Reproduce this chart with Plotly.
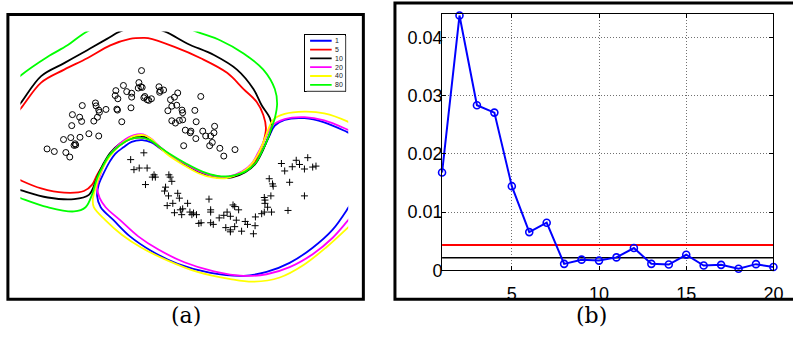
import plotly.graph_objects as go

W, H = 793, 349

# ---------------- Panel (a) data (image-like units, y downward) ----------------
circ_x = [430, 422, 428, 420, 432, 375, 352, 350, 358, 385, 400, 400,
          483, 487, 497, 485, 440, 437, 447, 460, 452, 540, 530, 518, 610,
          290, 292, 250, 300, 302, 322, 296, 285, 355, 357, 398, 370,
          220, 242, 248, 218, 510, 522, 537, 553, 555, 592,
          522, 533, 545, 555, 596, 563, 580, 578, 616, 595, 625, 640, 650, 652,
          270, 300, 243, 215, 193, 228, 225, 230, 143, 165, 200, 212,
          558, 637, 645, 668, 680, 714]
circ_y = [218, 255, 268, 272, 270, 264, 280, 295, 305, 283, 288, 300,
          268, 280, 278, 285, 298, 302, 308, 305, 310, 287, 300, 308, 298,
          318, 327, 326, 340, 347, 338, 362, 374, 337, 340, 333, 376,
          354, 362, 375, 388, 342, 328, 325, 340, 348, 341,
          373, 380, 372, 370, 376, 402, 405, 410, 405, 428, 420, 420, 410, 390,
          413, 420, 424, 425, 431, 444, 449, 448, 460, 468, 471, 485,
          450, 450, 440, 458, 482, 462]

cross_x = [437, 397, 407, 423, 447, 468, 463, 472, 513, 517, 522, 442,
           503, 500, 512, 540, 545, 570, 525, 508, 530, 548, 555, 552, 577, 583, 597, 588,
           604, 611, 640, 648, 635, 640, 640, 666, 680, 690, 708, 713, 725, 718, 700,
           686, 700, 700, 713, 734, 745, 752, 775, 770, 776, 795, 803, 803, 805, 805,
           823, 813, 825, 818, 828, 830, 880, 855, 865, 888, 900, 910, 925, 935, 950,
           960, 925, 875]
cross_y = [472, 493, 524, 519, 519, 540, 547, 547, 540, 547, 560, 570,
           578, 590, 605, 597, 612, 628, 628, 635, 657, 648, 645, 663, 655, 663, 663, 658,
           690, 688, 688, 693, 615, 648, 655, 673, 665, 655, 633, 638, 648, 680, 668,
           703, 710, 716, 700, 714, 684, 693, 697, 722, 670, 660, 655, 610, 618, 628,
           605, 640, 655, 552, 568, 575, 563, 505, 528, 515, 495, 508, 522, 487, 516,
           513, 605, 650]

series_names = ["1", "5", "10", "20", "40", "80"]
series_colors = ["#0000ff", "#ff0000", "#000000", "#ff00ff", "#ffff00", "#00ff00"]

curve_1_x = [1080, 1055, 985, 925, 865, 835, 818, 800, 780, 750, 710, 665, 620, 570, 520,
             485, 460, 432, 400, 375, 350, 333, 315, 300, 295, 306, 345, 395, 460, 540,
             640, 740, 810, 880, 950, 1010, 1058, 1080]
curve_1_y = [420, 408, 378, 365, 370, 388, 420, 460, 497, 525, 543, 548, 537, 512, 482,
             457, 440, 433, 438, 455, 475, 500, 535, 570, 605, 640, 680, 730, 775, 815,
             843, 852, 840, 812, 765, 710, 642, 605]

curve_5_x = [40, 63, 125, 195, 265, 335, 395, 435, 450, 530, 610, 690, 740, 780, 800, 808,
             800, 785, 770, 745, 705, 660, 615, 565, 515, 480, 455, 430, 400, 365, 335,
             310, 295, 280, 255, 195, 125, 65, 40]
curve_5_y = [360, 335, 255, 215, 180, 140, 120, 117, 118, 145, 180, 225, 275, 315, 355, 395,
             440, 478, 508, 530, 545, 545, 533, 508, 478, 452, 432, 425, 428, 448, 478,
             515, 540, 570, 590, 595, 582, 558, 545]

curve_10_x = [40, 63, 125, 195, 265, 325, 365, 430, 500, 570, 650, 720, 770, 795, 820, 825,
              812, 795, 775, 745, 705, 660, 615, 565, 515, 480, 455, 430, 400, 365, 335,
              312, 298, 290, 270, 225, 145, 65, 40]
curve_10_y = [345, 318, 235, 195, 155, 120, 97, 78, 97, 135, 170, 215, 275, 325, 365, 395,
              432, 472, 507, 532, 548, 548, 535, 510, 478, 450, 430, 420, 424, 443, 472,
              510, 540, 562, 602, 615, 610, 588, 580]

curve_20_x = [1080, 1055, 985, 925, 865, 825, 805, 785, 765, 735, 695, 655, 612, 563, 515,
              482, 458, 435, 405, 372, 342, 318, 303, 295, 303, 321, 365, 420, 480, 560,
              650, 740, 810, 880, 950, 1010, 1058, 1080]
curve_20_y = [412, 400, 372, 362, 368, 390, 430, 470, 505, 530, 545, 545, 532, 506, 477,
              450, 428, 415, 418, 437, 467, 505, 545, 580, 612, 640, 680, 730, 770, 810,
              838, 852, 847, 825, 785, 735, 680, 655]

curve_40_x = [1080, 1055, 985, 925, 865, 830, 815, 800, 782, 760, 728, 688, 645, 603, 555,
              510, 482, 460, 440, 410, 378, 348, 322, 303, 292, 282, 285, 320, 370, 430,
              510, 600, 700, 770, 850, 920, 990, 1058, 1080]
curve_40_y = [390, 375, 350, 345, 352, 370, 400, 440, 480, 512, 536, 550, 548, 535, 508,
              478, 452, 430, 418, 420, 437, 465, 500, 540, 575, 615, 640, 680, 725, 765,
              805, 840, 862, 870, 857, 820, 765, 702, 680]

curve_80_x = [40, 63, 145, 205, 265, 430, 595, 670, 740, 800, 835, 842, 835, 825, 812, 795,
              775, 745, 705, 660, 615, 565, 515, 480, 455, 425, 395, 362, 332, 310, 295,
              280, 260, 225, 145, 65, 40]
curve_80_y = [255, 233, 175, 140, 97, 30, 97, 125, 165, 215, 275, 320, 365, 395, 432, 470,
              505, 530, 543, 543, 530, 505, 475, 450, 432, 425, 430, 450, 480, 518, 550,
              600, 640, 653, 640, 613, 603]

curves_x = [curve_1_x, curve_5_x, curve_10_x, curve_20_x, curve_40_x, curve_80_x]
curves_y = [curve_1_y, curve_5_y, curve_10_y, curve_20_y, curve_40_y, curve_80_y]

# ---------------- Panel (b) data ----------------
b_x = list(range(1, 21))
b_y = [0.01678, 0.04372, 0.02833, 0.02706, 0.01444, 0.00656, 0.00817, 0.00111,
       0.00183, 0.00167, 0.00222, 0.00383, 0.00111, 0.00100, 0.00267, 0.00083,
       0.00094, 0.00028, 0.00106, 0.00056]
red_level = 0.00433
black_level = 0.00217
b_xticks = [5, 10, 15, 20]
b_yticks = [0, 0.01, 0.02, 0.03, 0.04]
b_yticktext = ["0", "0.01", "0.02", "0.03", "0.04"]

fig = go.Figure()

# curves in panel (a)
for name, col, cx, cy in zip(series_names, series_colors, curves_x, curves_y):
    fig.add_trace(go.Scatter(x=cx, y=cy, mode="lines", line=dict(color=col, width=1.8, shape="spline"),
                             xaxis="x", yaxis="y", showlegend=False, hoverinfo="skip"))

fig.add_trace(go.Scatter(x=circ_x, y=circ_y, mode="markers",
                         marker=dict(symbol="circle-open", size=6, color="black", line=dict(width=1)),
                         xaxis="x", yaxis="y", showlegend=False))
fig.add_trace(go.Scatter(x=cross_x, y=cross_y, mode="markers",
                         marker=dict(symbol="cross-thin-open", size=5, color="black", line=dict(width=1, color="black")),
                         xaxis="x", yaxis="y", showlegend=False))

# custom legend in its own small axes
for i, (name, col) in enumerate(zip(series_names, series_colors)):
    fig.add_trace(go.Scatter(x=[0.12, 0.67], y=[i, i], mode="lines", line=dict(color=col, width=1.8),
                             xaxis="x3", yaxis="y3", showlegend=False, hoverinfo="skip"))
    fig.add_annotation(x=0.71, y=i, xref="x3", yref="y3", text=name, showarrow=False,
                       xanchor="left", yanchor="middle",
                       font=dict(family="Liberation Sans", size=7, color="#222"))

# panel (b)
fig.add_trace(go.Scatter(x=[1, 20], y=[red_level, red_level], mode="lines",
                         line=dict(color="#ff0000", width=2), xaxis="x2", yaxis="y2", showlegend=False))
fig.add_trace(go.Scatter(x=[1, 20], y=[black_level, black_level], mode="lines",
                         line=dict(color="#000000", width=1.5), xaxis="x2", yaxis="y2", showlegend=False))
fig.add_trace(go.Scatter(x=b_x, y=b_y, mode="lines+markers",
                         line=dict(color="#0000ff", width=2),
                         marker=dict(symbol="circle-open", size=7, color="#0000ff", line=dict(width=1.6)),
                         xaxis="x2", yaxis="y2", showlegend=False, cliponaxis=False))

tickfont = dict(family="Liberation Sans", size=18, color="black")

fig.update_layout(
    width=W, height=H, autosize=False,
    margin=dict(l=0, r=0, t=0, b=0),
    paper_bgcolor="white", plot_bgcolor="white",
    hovermode=False,
    xaxis=dict(domain=[20.67 / W, 352.67 / W], range=[62, 1058], visible=False),
    yaxis=dict(domain=[(H - 300) / H, (H - 32.33) / H], range=[900, 97], visible=False),
    xaxis3=dict(domain=[309.3 / W, 349 / W], range=[0, 1], showgrid=False, zeroline=False,
                showticklabels=False, ticks="", showline=True, mirror=True, linecolor="black", linewidth=1,
                anchor="y3"),
    yaxis3=dict(domain=[(H - 93.3) / H, (H - 35.7) / H], range=[5.66, -0.69], showgrid=False, zeroline=False,
                showticklabels=False, ticks="", showline=True, mirror=True, linecolor="black", linewidth=1,
                anchor="x3"),
    xaxis2=dict(domain=[447.7 / W, 783.3 / W], range=[1, 20], anchor="y2",
                tickvals=b_xticks, ticks="inside", ticklen=4, tickcolor="black",
                showline=True, linecolor="black", linewidth=1, mirror="ticks",
                showgrid=True, gridcolor="#707070", griddash="1px,2px", gridwidth=1,
                zeroline=False, tickfont=tickfont, ticklabeloverflow="allow", ticklabelstandoff=7),
    yaxis2=dict(domain=[(H - 278.3) / H, (H - 14) / H], range=[0, 0.04405], anchor="x2",
                tickvals=b_yticks, ticktext=b_yticktext, ticks="inside", ticklen=4, tickcolor="black",
                showline=True, linecolor="black", linewidth=1, mirror="ticks",
                showgrid=True, gridcolor="#707070", griddash="1px,2px", gridwidth=1,
                zeroline=False, tickfont=tickfont, ticklabeloverflow="allow", ticklabelstandoff=-5),
    shapes=[
        dict(type="rect", xref="paper", yref="paper", x0=8 / W, x1=368 / W, y0=(H - 308) / H, y1=(H - 15) / H,
             line=dict(color="black", width=3), fillcolor="rgba(0,0,0,0)", layer="above"),
        dict(type="rect", xref="paper", yref="paper", x0=400 / W, x1=805 / W, y0=(H - 308) / H, y1=(H - 3) / H,
             line=dict(color="black", width=3), fillcolor="rgba(0,0,0,0)", layer="above"),
        dict(type="line", xref="paper", yref="paper", x0=310.5 / W, x1=350 / W, y0=(H - 94) / H, y1=(H - 94) / H,
             line=dict(color="#555", width=1.2)),
        dict(type="line", xref="paper", yref="paper", x0=350 / W, x1=350 / W, y0=(H - 94) / H, y1=(H - 37) / H,
             line=dict(color="#555", width=1.2)),
    ],
)

fig.add_annotation(x=188 / W, y=(H - 325) / H, xref="paper", yref="paper", text="(a)", showarrow=False,
                   xanchor="center", yanchor="middle",
                   font=dict(family="DejaVu Serif", size=22, color="black"))
fig.add_annotation(x=599 / W, y=(H - 325) / H, xref="paper", yref="paper", text="(b)", showarrow=False,
                   xanchor="center", yanchor="middle",
                   font=dict(family="DejaVu Serif", size=22, color="black"))

fig.write_html("out.html",
               config={"displayModeBar": False, "staticPlot": True},
               post_script="document.body.style.margin='0';document.body.style.overflow='hidden';")
